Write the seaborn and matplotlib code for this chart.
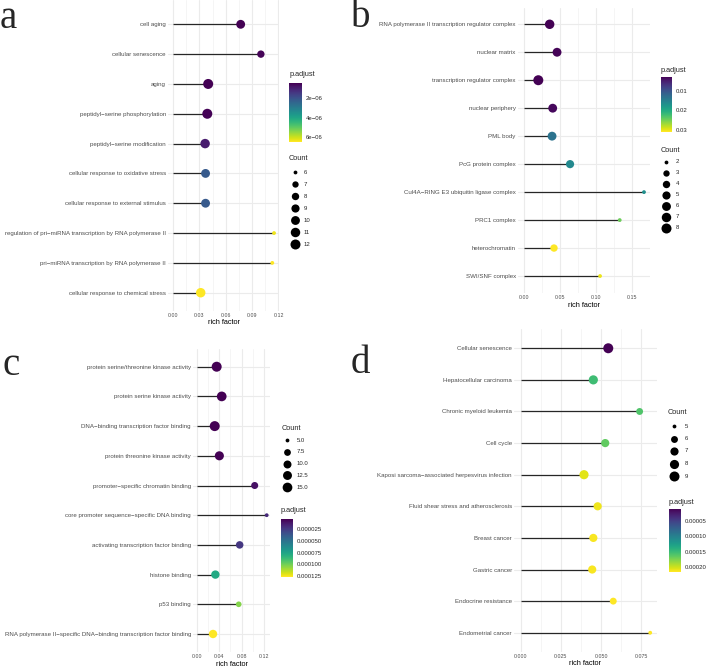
import numpy as np
import pandas as pd
import matplotlib
matplotlib.use("Agg")
import matplotlib.pyplot as plt
import seaborn as sns
from matplotlib.colors import Normalize
from matplotlib.cm import ScalarMappable

# ---------------- data ----------------
a_terms = ["cell aging", "cellular senescence", "aging",
           "peptidyl\u2212serine phosphorylation", "peptidyl\u2212serine modification",
           "cellular response to oxidative stress", "cellular response to external stimulus",
           "regulation of pri\u2212miRNA transcription by RNA polymerase II",
           "pri\u2212miRNA transcription by RNA polymerase II",
           "cellular response to chemical stress"]
a_rich = [0.077, 0.100, 0.040, 0.039, 0.0365, 0.037, 0.037, 0.115, 0.113, 0.0315]
a_count = [10, 8, 12, 12, 11, 10, 10, 6, 6, 11]
a_padj = [5.5e-7, 6.0e-7, 5.6e-7, 5.8e-7, 1.0e-6, 2.2e-6, 2.2e-6, 6.3e-6, 6.44e-6, 6.44e-6]
a_cbar_ticks = [2e-6, 4e-6, 6e-6]
a_cbar_labels = ["2e\u221206", "4e\u221206", "6e\u221206"]
a_count_breaks = [6, 7, 8, 9, 10, 11, 12]
a_count_labels = ["6", "7", "8", "9", "10", "11", "12"]
a_xbreaks = [0.00, 0.03, 0.06, 0.09, 0.12]
a_xlabels = ["0.00", "0.03", "0.06", "0.09", "0.12"]

b_terms = ["RNA polymerase II transcription regulator complex", "nuclear matrix",
           "transcription regulator complex", "nuclear periphery", "PML body",
           "PcG protein complex", "Cul4A\u2212RING E3 ubiquitin ligase complex",
           "PRC1 complex", "heterochromatin", "SWI/SNF complex"]
b_rich = [0.0355, 0.0457, 0.0198, 0.0397, 0.0388, 0.0637, 0.166, 0.1324, 0.0415, 0.1052]
b_count = [7, 6, 8, 6, 6, 5, 2, 2, 4, 2]
b_padj = [0.0029, 0.0032, 0.0029, 0.0035, 0.0135, 0.0160, 0.0168, 0.0245, 0.0308, 0.0300]
b_cbar_ticks = [0.01, 0.02, 0.03]
b_cbar_labels = ["0.01", "0.02", "0.03"]
b_count_breaks = [2, 3, 4, 5, 6, 7, 8]
b_count_labels = ["2", "3", "4", "5", "6", "7", "8"]
b_xbreaks = [0.00, 0.05, 0.10, 0.15]
b_xlabels = ["0.00", "0.05", "0.10", "0.15"]

c_terms = ["protein serine/threonine kinase activity", "protein serine kinase activity",
           "DNA\u2212binding transcription factor binding", "protein threonine kinase activity",
           "promoter\u2212specific chromatin binding",
           "core promoter sequence\u2212specific DNA binding",
           "activating transcription factor binding", "histone binding", "p53 binding",
           "RNA polymerase II\u2212specific DNA\u2212binding transcription factor binding"]
c_rich = [0.0356, 0.0446, 0.0321, 0.0404, 0.1034, 0.1248, 0.0766, 0.0333, 0.0749, 0.0291]
c_count = [16, 15, 16, 13, 8, 5, 9, 11, 6, 11]
c_padj = [3.4e-6, 3.6e-6, 3.5e-6, 3.8e-6, 9e-6, 1.8e-5, 2.3e-5, 7.8e-5, 1.04e-4, 1.27e-4]
c_cbar_ticks = [2.5e-5, 5.0e-5, 7.5e-5, 1.0e-4, 1.25e-4]
c_cbar_labels = ["0.000025", "0.000050", "0.000075", "0.000100", "0.000125"]
c_count_breaks = [5.0, 7.5, 10.0, 12.5, 15.0]
c_count_labels = ["5.0", "7.5", "10.0", "12.5", "15.0"]
c_xbreaks = [0.00, 0.04, 0.08, 0.12]
c_xlabels = ["0.00", "0.04", "0.08", "0.12"]

d_terms = ["Cellular senescence", "Hepatocellular carcinoma", "Chronic myeloid leukemia",
           "Cell cycle", "Kaposi sarcoma\u2212associated herpesvirus infection",
           "Fluid shear stress and atherosclerosis", "Breast cancer", "Gastric cancer",
           "Endocrine resistance", "Endometrial cancer"]
d_rich = [0.0545, 0.0452, 0.0740, 0.0526, 0.0394, 0.0479, 0.0452, 0.0445, 0.0576, 0.0806]
d_count = [9, 8, 6, 7, 8, 7, 7, 7, 6, 5]
d_padj = [9e-6, 1.52e-4, 1.6e-4, 1.66e-4, 2.08e-4, 2.12e-4, 2.15e-4, 2.15e-4, 2.17e-4, 2.17e-4]
d_cbar_ticks = [5e-5, 1e-4, 1.5e-4, 2e-4]
d_cbar_labels = ["0.00005", "0.00010", "0.00015", "0.00020"]
d_count_breaks = [5, 6, 7, 8, 9]
d_count_labels = ["5", "6", "7", "8", "9"]
d_xbreaks = [0.000, 0.025, 0.050, 0.075]
d_xlabels = ["0.000", "0.025", "0.050", "0.075"]

# ---------------- style / layout ----------------
sns.set_style("white")
plt.rcParams['font.family'] = ['Liberation Sans', 'DejaVu Sans']

W, H = 708, 669
PT = 0.72  # points per pixel at 100 dpi
fig = plt.figure(figsize=(W / 100, H / 100), dpi=100)
fig.patch.set_facecolor("white")

ov = fig.add_axes([0, 0, 1, 1], zorder=10)
ov.set_xlim(0, W)
ov.set_ylim(H, 0)
ov.axis("off")
ov.patch.set_alpha(0)


def px_axes(l, t, r, b, **kw):
    return fig.add_axes([l / W, 1 - b / H, (r - l) / W, (b - t) / H], **kw)


def diam(c, cmin, cmax, dmin=3.8, dmax=10.0):
    t = (c - cmin) / (cmax - cmin)
    return dmin + (dmax - dmin) * np.sqrt(max(t, 0))


def panel(terms, rich, count, padj, cb_ticks, cb_labels, cnt_breaks, cnt_labels,
          xbreaks, xlabels, L):
    df = pd.DataFrame({"term": terms, "rich": rich, "count": count, "padj": padj})
    ax = px_axes(*L["box"])
    ax.set_facecolor("white")
    cmin, cmax = min(count), max(count)
    norm = Normalize(vmin=min(padj), vmax=max(padj))
    sizes = {c: (diam(c, cmin, cmax) * PT) ** 2 for c in df["count"].unique()}
    ax.hlines(df["term"], 0, df["rich"], color="#262626", lw=0.9, zorder=2)
    sns.scatterplot(data=df, x="rich", y="term", hue="padj", hue_norm=norm,
                    palette="viridis", size="count", sizes=sizes, legend=False,
                    linewidth=0, ax=ax, zorder=3)
    n = len(terms)
    ax.set_ylim(n - 1 + L["ybot"], -L["ytop"])
    xmax = max(rich)
    ax.set_xlim(-0.05 * xmax, 1.05 * xmax)
    ax.set_xticks(xbreaks)
    ax.set_xticklabels(xlabels)
    step = xbreaks[1] - xbreaks[0]
    minor = [v + step / 2 for v in xbreaks if v + step / 2 < 1.05 * xmax]
    ax.set_xticks(minor, minor=True)
    ax.grid(axis="x", which="major", color="#EBEBEB", lw=0.8, zorder=0)
    ax.grid(axis="x", which="minor", color="#F1F1F1", lw=0.5, zorder=0)
    ax.grid(axis="y", which="major", color="#EBEBEB", lw=0.8, zorder=0)
    ax.set_axisbelow(True)
    for s in ax.spines.values():
        s.set_visible(False)
    ax.tick_params(axis="both", which="both", length=0)
    ax.tick_params(axis="y", labelsize=4.4, labelcolor="#4D4D4D", pad=1.6)
    ax.tick_params(axis="x", labelsize=3.8, labelcolor="#4D4D4D", pad=1.4)
    ax.set_ylabel("")
    ax.set_xlabel("rich factor", fontsize=5.3, labelpad=1.3, color="black")

    # panel letter
    fig.text(L["letter"][1] / W, 1 - L["letter"][2] / H, L["letter"][0],
             fontsize=28, family=["Liberation Serif", "DejaVu Serif"],
             ha="left", va="baseline")

    # colour bar
    cax = px_axes(*L["cbar"])
    cb = fig.colorbar(ScalarMappable(norm=norm, cmap="viridis"), cax=cax)
    cb.outline.set_visible(False)
    cb.minorticks_off()
    cax.invert_yaxis()
    cb.set_ticks(cb_ticks)
    cb.set_ticklabels(cb_labels)
    cax.tick_params(direction="in", length=2.4 * PT, width=0.6, color="white",
                    left=True, right=True, labelleft=False, labelright=True,
                    labelsize=4.3, pad=3.0)
    ov.text(L["cbar"][0], L["padj_title_y"], "p.adjust", fontsize=5.3,
            ha="left", va="center")

    # count legend
    ov.text(L["cnt_title"][0], L["cnt_title"][1], "Count", fontsize=5.3,
            ha="left", va="center")
    for i, (c, lab) in enumerate(zip(cnt_breaks, cnt_labels)):
        y = L["cnt_y0"] + i * L["cnt_dy"]
        ov.scatter([L["cnt_x"]], [y], s=(diam(c, cmin, cmax) * PT) ** 2,
                   color="black", lw=0)
        ov.text(L["cnt_lx"], y, lab, fontsize=4.3, ha="left", va="center")
    return ax


LA = dict(box=(168, 0, 279.1, 310.6), ytop=0.815, ybot=0.6,
          letter=("a", 0, 28), cbar=(289.3, 83.3, 301.7, 141.7), padj_title_y=75,
          cnt_title=(289, 158), cnt_y0=172.3, cnt_dy=12.0, cnt_x=295.3, cnt_lx=304)
LB = dict(box=(518, 7.5, 650, 292.8), ytop=0.6, ybot=0.6,
          letter=("b", 351, 27), cbar=(660.7, 76.7, 671.7, 131.7), padj_title_y=71,
          cnt_title=(660.7, 150), cnt_y0=161.7, cnt_dy=11.0, cnt_x=666.3, cnt_lx=675.7)
LC = dict(box=(193.2, 348.9, 270.2, 651.8), ytop=0.6, ybot=0.6,
          letter=("c", 2, 375), cbar=(281, 519.3, 292.7, 576.7), padj_title_y=511,
          cnt_title=(281.7, 428.3), cnt_y0=440, cnt_dy=11.8, cnt_x=286.7, cnt_lx=296.7)
LD = dict(box=(514.2, 329.3, 656.7, 651.7), ytop=0.6, ybot=0.6,
          letter=("d", 351, 373), cbar=(669, 509, 680.7, 571.7), padj_title_y=502.7,
          cnt_title=(668, 413), cnt_y0=426, cnt_dy=12.5, cnt_x=673.5, cnt_lx=685)

panel(a_terms, a_rich, a_count, a_padj, a_cbar_ticks, a_cbar_labels,
      a_count_breaks, a_count_labels, a_xbreaks, a_xlabels, LA)
panel(b_terms, b_rich, b_count, b_padj, b_cbar_ticks, b_cbar_labels,
      b_count_breaks, b_count_labels, b_xbreaks, b_xlabels, LB)
panel(c_terms, c_rich, c_count, c_padj, c_cbar_ticks, c_cbar_labels,
      c_count_breaks, c_count_labels, c_xbreaks, c_xlabels, LC)
panel(d_terms, d_rich, d_count, d_padj, d_cbar_ticks, d_cbar_labels,
      d_count_breaks, d_count_labels, d_xbreaks, d_xlabels, LD)

fig.savefig("out.png", dpi=100, facecolor="white")
